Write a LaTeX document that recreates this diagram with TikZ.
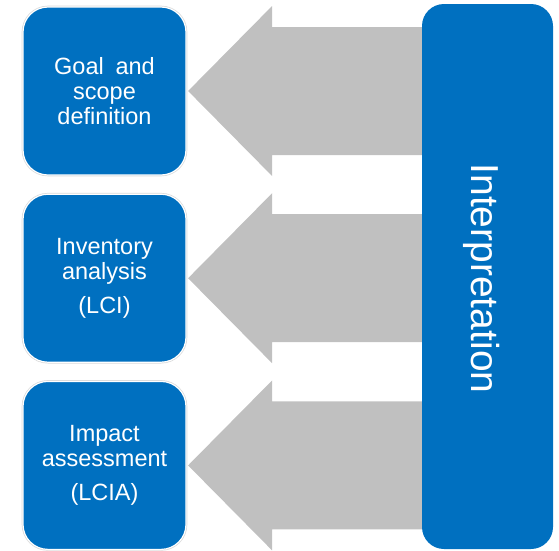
\documentclass[tikz,border=0pt]{standalone}
\usepackage{fontspec}
\setmainfont{Liberation Sans}
\usetikzlibrary{positioning}
\definecolor{lcablue}{HTML}{0070C0}
\definecolor{lcagray}{HTML}{C0C0C0}
\begin{document}
\begin{tikzpicture}[x=1pt, y=-1pt,
    stagebox/.style={fill=lcablue, draw=white, line width=1.2pt,
        preaction={draw=black!15, line width=2.6pt},
        rounded corners=25pt, minimum width=163pt, minimum height=168pt,
        text=white, align=center, font=\fontsize{23.5}{25}\selectfont},
    interpbox/.style={fill=lcablue, rounded corners=22pt,
        minimum width=131pt, minimum height=545pt},
    blockarrow/.style={fill=lcagray}]
    \useasboundingbox (0,0) rectangle (559,550);
    \node[stagebox] (goal) at (104.5,91) {Goal\enspace and\\scope\\definition};
    \node[stagebox, below=18pt of goal] (inventory) {Inventory\\analysis\\[9pt](LCI)};
    \node[stagebox, below=18pt of inventory] (impact) {Impact\\assessment\\[9pt](LCIA)};
    % gray arrows pointing back to each stage
    \foreach \b in {goal, inventory, impact} {
        \fill[blockarrow] ([xshift=1.5pt]\b.east) -- ++(84,-85) -- ++(0,21)
            -- ++(170,0) -- ++(0,128) -- ++(-170,0) -- ++(0,21) -- cycle;
    }
    \node[interpbox] (interp) at (487.5,276.5) {};
    \node[rotate=-90, text=white, font=\fontsize{39}{44}\selectfont]
        (interplabel) at ([xshift=-6pt, yshift=-2pt]interp.center) {Interpretation};
\end{tikzpicture}
\end{document}
